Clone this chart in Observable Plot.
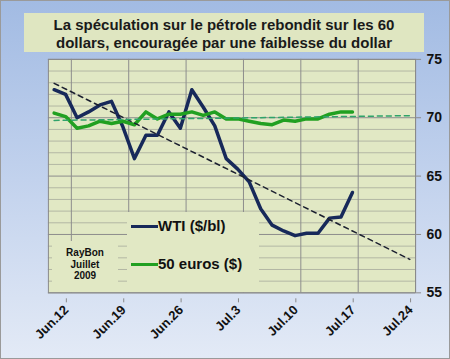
<!DOCTYPE html>
<html>
<head>
<meta charset="utf-8">
<script src="https://cdn.jsdelivr.net/npm/d3@7"></script>
<script src="https://cdn.jsdelivr.net/npm/@observablehq/plot@0.6"></script>
<style>
  body { margin: 0; }
  #wrap { position: relative; width: 450px; height: 359px; box-sizing: border-box;
          border: 1px solid #9a9a9a;
          background: linear-gradient(to bottom, #a2bbe3 0%, #c2d2ed 50%, #e3eaf6 100%);
          font-family: "Liberation Sans", Arial, sans-serif; overflow: hidden; }
  #chart { position: absolute; left: -1px; top: -1px; }
  #title { position: absolute; left: 23px; top: 12px; width: 400px; height: 39px;
           background: #dfe6c1; color: #1a1a1a; font-weight: bold; font-size: 15px;
           line-height: 18px; text-align: center; padding-top: 3px; box-sizing: border-box; }
  .box { position: absolute; background: #e1e8c4; }
  .leg { position: absolute; font-weight: bold; font-size: 15px; color: #111; white-space: nowrap; }
  .sw { position: absolute; height: 3px; }
  #raybon { font-weight: bold; font-size: 10px; line-height: 11.5px; text-align: center; color: #111; }
</style>
</head>
<body>
<div id="wrap">
  <div id="chart"></div>
  <div id="title"></div>
  <div id="legend" class="box" style="left:126px;top:211px;width:132px;height:80px;"></div>
  <div id="raybon" class="box" style="left:51px;top:240px;width:66px;height:51px;"></div>
</div>
<script>
// ---- data ----
const titleLines = ["La spéculation sur le pétrole rebondit sur les 60", "dollars, encouragée par une faiblesse du dollar"];
const tickLabels = ["Jun.12", "Jun.19", "Jun.26", "Jul.3", "Jul.10", "Jul.17", "Jul.24"];
const seriesNames = ["WTI ($/bl)", "50 euros ($)"];
const wti = [72.4, 72.0, 70.0, 70.5, 71.1, 71.4, 69.2, 66.5, 68.5, 68.5, 70.5, 69.1, 72.4, 70.9, 69.3,
             66.5, 65.6, 64.5, 62.2, 60.8, 60.3, 59.9, 60.1, 60.1, 61.4, 61.5, 63.6];
const eur50 = [70.4, 70.1, 69.1, 69.3, 69.7, 69.5, 69.7, 69.4, 70.5, 69.9, 70.3, 70.3, 70.5, 70.2, 70.5,
               69.9, 69.9, 69.7, 69.5, 69.4, 69.8, 69.7, 69.9, 69.9, 70.3, 70.5, 70.5];
const forecastPeriods = 5;
const credit = ["RayBon", "Juillet", "2009"];
const yTicks = [55, 60, 65, 70, 75];

// ---- derived ----
const navy = "#17295a", green = "#21a021";
const plotFill = "#e1e8c4";
const nCat = wti.length + forecastPeriods;  // 32 category slots
const firstTickCat = 2, catPerTick = 5;
const tickPos = tickLabels.map((_, k) => firstTickCat + k * catPerTick - 0.5);

function trend(vals) {
  const n = vals.length, mx = (n - 1) / 2, my = d3.mean(vals);
  let sxy = 0, sxx = 0;
  vals.forEach((v, i) => { sxy += (i - mx) * (v - my); sxx += (i - mx) ** 2; });
  const b = sxy / sxx, a = my - b * mx;
  return [0, nCat - 1].map(i => ({i, v: a + b * i}));
}
const wtiData = wti.map((v, i) => ({i, v}));
const eurData = eur50.map((v, i) => ({i, v}));

const chart = Plot.plot({
  width: 450, height: 359,
  marginTop: 59, marginBottom: 66, marginLeft: 48, marginRight: 34,
  style: {background: "transparent", fontFamily: "'Liberation Sans', Arial, sans-serif", overflow: "visible"},
  x: {domain: [-0.5, nCat - 0.5]},
  y: {domain: [55, 75]},
  marks: [
    Plot.frame({fill: plotFill}),
    Plot.ruleY(d3.range(55, 76).filter(v => v % 5 !== 0), {y: d => d, stroke: "#b3b7a4", strokeWidth: 1}),
    Plot.ruleY(yTicks, {y: d => d, stroke: "#8d8d8d", strokeWidth: 1}),
    Plot.ruleX(tickPos, {x: d => d, stroke: "#8d8d8d", strokeWidth: 1}),
    Plot.line(wtiData, {x: "i", y: "v", stroke: navy, strokeWidth: 3.5, strokeLinejoin: "round"}),
    Plot.line(eurData, {x: "i", y: "v", stroke: green, strokeWidth: 3.5, strokeLinejoin: "round"}),
    Plot.line(trend(wti), {x: "i", y: "v", stroke: "#1c2030", strokeWidth: 1.5, strokeDasharray: "5,4"}),
    Plot.line(trend(eur50), {x: "i", y: "v", stroke: "#2fa36a", strokeWidth: 1.5, strokeDasharray: "5,4"}),
    Plot.frame({stroke: "#8a8a8a"}),
    Plot.axisY({anchor: "right", ticks: yTicks, tickSize: 5, tickPadding: 6, stroke: "#8a8a8a",
                fontSize: 14, fontWeight: "bold", fill: "#111", label: null}),
    Plot.axisX({ticks: tickPos, tickFormat: (d, k) => tickLabels[k], tickSize: 4, tickPadding: 5,
                tickRotate: -45, stroke: "#8a8a8a", fontSize: 13, fontWeight: "bold", fill: "#111",
                label: null, dx: -5, dy: 6})
  ]
});
document.getElementById("chart").appendChild(chart);

document.getElementById("title").innerHTML = titleLines.join("<br>");

const legend = document.getElementById("legend");
const colors = [navy, green];
const rowsY = [14, 52];
seriesNames.forEach((name, k) => {
  const sw = document.createElement("div");
  sw.className = "sw";
  sw.style.cssText = `left:4px;top:${rowsY[k] - 1.5}px;width:27px;background:${colors[k]};`;
  legend.appendChild(sw);
  const t = document.createElement("div");
  t.className = "leg";
  t.style.cssText = `left:31px;top:${rowsY[k] - 9}px;`;
  t.textContent = name;
  legend.appendChild(t);
});
const rb = document.getElementById("raybon");
rb.innerHTML = `<div style="padding-top:6px">${credit.join("<br>")}</div>`;
</script>
</body>
</html>
